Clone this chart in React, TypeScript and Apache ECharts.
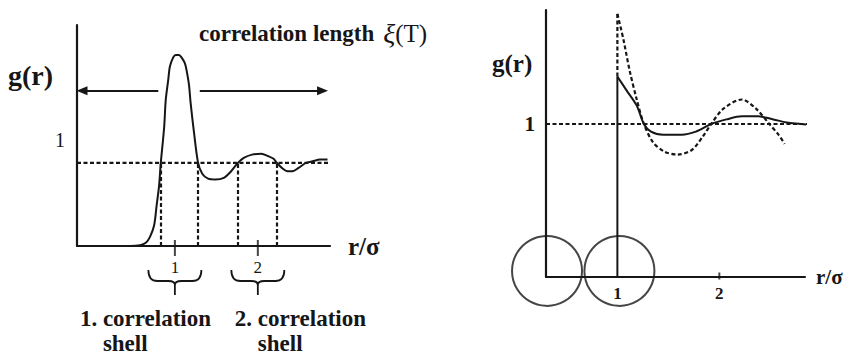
import React, { useEffect, useRef } from "react";
import * as echarts from "echarts";

// Left panel: g(r) of a liquid, r in units of σ — main peak, then a damped oscillation about 1
const liquidCurve: [number, number][] = [
  [-0.18, 0], [0.46, 0], [0.58, 0.01], [0.65, 0.04], [0.7, 0.11], [0.75, 0.25],
  [0.78, 0.49], [0.81, 0.73], [0.83, 1.0], [0.87, 1.42], [0.89, 1.76], [0.92, 2.0],
  [0.94, 2.16], [0.98, 2.27], [1.01, 2.3], [1.05, 2.3], [1.08, 2.27], [1.12, 2.2],
  [1.14, 2.12], [1.17, 1.94], [1.19, 1.72], [1.23, 1.37], [1.28, 1.0], [1.33, 0.87],
  [1.4, 0.81], [1.49, 0.8], [1.59, 0.82], [1.67, 0.89], [1.76, 1.0], [1.83, 1.06],
  [1.93, 1.1], [2.04, 1.11], [2.13, 1.08], [2.19, 1.05], [2.23, 1.0], [2.29, 0.94],
  [2.36, 0.9], [2.42, 0.9], [2.49, 0.94], [2.58, 1.0], [2.66, 1.02], [2.75, 1.04],
  [2.84, 1.04],
];
// where g(r) crosses 1: the edges of the first and second correlation shells
const shellBounds = [0.83, 1.28, 1.76, 2.23];
const shellCentres = [1, 2];
const shellCaptions = ["1. correlation", "2. correlation"];
const leftTickValues = [1, 2];
const leftRange = [-0.18, 2.87];
const leftUnityLine: [number, number][] = [[-0.18, 1], [2.86, 1]];
// correlation-length arrows, drawn at this height
const arrowLevel = 1.87;
const arrowLeft = [0.8, -0.12];
const arrowRight = [1.3, 2.78];

// Right panel: hard spheres — g(r) jumps at contact r = σ, then oscillates about 1
const contactLine: [number, number][] = [[1, 0], [1, 1.31]];
const solidCurve: [number, number][] = [
  [1, 1.31], [1.09, 1.22], [1.19, 1.12], [1.26, 1.0], [1.33, 0.95], [1.45, 0.93],
  [1.63, 0.93], [1.77, 0.95], [1.92, 1.0], [2.07, 1.03], [2.22, 1.05], [2.38, 1.05],
  [2.53, 1.03], [2.66, 1.01], [2.8, 1.0], [2.92, 0.99],
];
const dashedRise: [number, number][] = [[1, 1.31], [1, 1.72]];
const dashedCurve: [number, number][] = [
  [1, 1.72], [1.06, 1.55], [1.12, 1.35], [1.19, 1.16], [1.26, 1.0], [1.35, 0.88],
  [1.46, 0.82], [1.59, 0.8], [1.73, 0.83], [1.84, 0.92], [1.92, 1.0], [2.04, 1.1],
  [2.22, 1.16], [2.36, 1.1], [2.49, 1.0], [2.58, 0.93], [2.64, 0.87],
];
const rightUnityLine: [number, number][] = [[0.3, 1], [2.88, 1]];
const sphereCentres: [number, number][] = [[0.31, 0.04], [1.02, 0.04]];
const rightTickValues = [1, 2];
const rightRange = [0.3, 2.84];

const FONT = '"Liberation Serif", "Times New Roman", serif';
const INK = "#161616";
const DASH = [4, 2.5];

const BRACE_W = 53;
echarts.graphic.registerShape(
  "brace",
  echarts.graphic.extendPath(
    "M0,0 C0,8 3,11 9,11 L20,11 C24,11 26.5,12 26.5,15 C26.5,12 29,11 33,11 L44,11 C50,11 53,8 53,0 M26.5,15 L26.5,25",
    {}
  )
);

// caption left edges, in pixels from each shell's centre tick
const captionShift = [-95, -23];
const shellWordShift = [-72, 0];

export default function App() {
  const ref = useRef<HTMLDivElement>(null);

  useEffect(() => {
    if (!ref.current) return;
    const chart = echarts.init(ref.current, null, { renderer: "svg" });

    const axisLine = { show: true, onZero: false, lineStyle: { color: INK, width: 2.2 } };
    const lineSeries = (x: number, data: [number, number][], dashed = false) => ({
      type: "line",
      xAxisIndex: x,
      yAxisIndex: x,
      data,
      symbol: "none",
      clip: false,
      silent: true,
      lineStyle: { color: INK, width: dashed ? 2.2 : 2, type: dashed ? DASH : "solid" },
    });

    chart.setOption({
      animation: false,
      backgroundColor: "#ffffff",
      grid: [
        { left: 77, top: 25, width: 253, height: 221 },
        { left: 546, top: 10, width: 259, height: 267 },
      ],
      xAxis: [
        {
          type: "value", gridIndex: 0, min: leftRange[0], max: leftRange[1],
          axisLine, axisTick: { show: false }, splitLine: { show: false },
          axisLabel: { customValues: leftTickValues, fontFamily: FONT, fontSize: 17, color: INK, margin: 13 },
          name: "r/σ", nameLocation: "end", nameGap: 18,
          nameTextStyle: { fontFamily: FONT, fontWeight: "bold", fontSize: 25, color: INK, verticalAlign: "middle" },
        },
        {
          type: "value", gridIndex: 1, min: rightRange[0], max: rightRange[1],
          axisLine, axisTick: { show: false }, splitLine: { show: false },
          axisLabel: { customValues: rightTickValues, fontFamily: FONT, fontWeight: "bold", fontSize: 17, color: INK, margin: 8 },
          name: "r/σ", nameLocation: "end", nameGap: 11,
          nameTextStyle: { fontFamily: FONT, fontWeight: "bold", fontSize: 21, color: INK, verticalAlign: "middle" },
        },
      ],
      yAxis: [
        {
          type: "value", gridIndex: 0, min: 0, max: 2.66,
          axisLine, axisTick: { show: false }, splitLine: { show: false }, axisLabel: { show: false },
        },
        {
          type: "value", gridIndex: 1, min: 0, max: 1.745,
          axisLine, axisTick: { show: false }, splitLine: { show: false },
          axisLabel: { customValues: [1], fontFamily: FONT, fontWeight: "bold", fontSize: 21, color: INK, margin: 11 },
        },
      ],
      series: [
        { ...lineSeries(0, liquidCurve), smooth: 0.3 },
        {
          ...lineSeries(0, leftUnityLine, true),
          markLine: {
            silent: true,
            symbol: ["none", "none"],
            label: { show: false },
            lineStyle: { color: INK, width: 2.2, type: DASH },
            data: shellBounds.map((r) => [{ coord: [r, 0] }, { coord: [r, 1] }]),
          },
        },
        {
          type: "line", xAxisIndex: 0, yAxisIndex: 0, data: [], silent: true,
          markLine: {
            silent: true,
            symbol: ["none", "triangle"],
            symbolSize: [9, 11],
            label: { show: false },
            lineStyle: { color: INK, width: 2, type: "solid" },
            data: [arrowLeft, arrowRight].map((a) => [
              { coord: [a[0], arrowLevel] },
              { coord: [a[1], arrowLevel] },
            ]),
          },
        },
        {
          type: "scatter", xAxisIndex: 0, yAxisIndex: 0, silent: true, clip: false,
          data: leftTickValues.map((v) => [v, 0]),
          symbol: "rect", symbolSize: [2, 16], symbolOffset: [0, 2],
          itemStyle: { color: INK },
        },
        lineSeries(1, contactLine),
        { ...lineSeries(1, solidCurve), smooth: 0.3 },
        lineSeries(1, dashedRise, true),
        { ...lineSeries(1, dashedCurve, true), smooth: 0.3 },
        lineSeries(1, rightUnityLine, true),
        {
          type: "scatter", xAxisIndex: 1, yAxisIndex: 1, silent: true, clip: false,
          data: sphereCentres,
          symbol: "circle", symbolSize: 70,
          itemStyle: { color: "rgba(0,0,0,0)", borderColor: INK, borderWidth: 2 },
        },
        {
          type: "scatter", xAxisIndex: 1, yAxisIndex: 1, silent: true, clip: false,
          data: rightTickValues.filter((v) => v !== 1).map((v) => [v, 0]),
          symbol: "rect", symbolSize: [2, 7], symbolOffset: [0, -1],
          itemStyle: { color: INK },
        },
      ],
    });

    // braces and captions under the shells, placed from the axis scale
    const bold = { fontFamily: FONT, fontWeight: "bold", fill: INK };
    const graphics: any[] = [];
    shellCentres.forEach((c, i) => {
      const [px, py] = chart.convertToPixel({ xAxisIndex: 0, yAxisIndex: 0 }, [c, 0]) as number[];
      graphics.push({
        type: "brace", x: px - BRACE_W / 2, y: py + 24, silent: true,
        style: { fill: "none", stroke: INK, lineWidth: 1.8 },
      });
      graphics.push({
        type: "text", x: px + captionShift[i], y: py + 72, silent: true,
        style: { ...bold, text: shellCaptions[i], fontSize: 23, verticalAlign: "middle" },
      });
      graphics.push({
        type: "text", x: px + shellWordShift[i], y: py + 97, silent: true,
        style: { ...bold, text: "shell", fontSize: 23, verticalAlign: "middle" },
      });
    });
    graphics.push(
      { type: "text", x: 8, y: 75, silent: true, style: { ...bold, text: "g(r)", fontSize: 28, verticalAlign: "middle" } },
      { type: "text", x: 60, y: 140, silent: true, style: { fontFamily: FONT, fill: INK, text: "1", fontSize: 20, align: "center", verticalAlign: "middle" } },
      { type: "text", x: 492, y: 63, silent: true, style: { ...bold, text: "g(r)", fontSize: 25, verticalAlign: "middle" } },
      {
        type: "text", x: 199, y: 33, silent: true,
        style: {
          text: "{b|correlation length}{x|ξ}{t|(T)}",
          verticalAlign: "middle",
          rich: {
            b: { fontFamily: FONT, fontWeight: "bold", fontSize: 23, fill: INK, color: INK },
            x: { fontFamily: FONT, fontStyle: "italic", fontSize: 28, fill: INK, color: INK, padding: [0, 0, 0, 9] },
            t: { fontFamily: FONT, fontSize: 25, fill: INK, color: INK },
          },
        },
      }
    );
    chart.setOption({ graphic: graphics });

    return () => chart.dispose();
  }, []);

  return (
    <div
      ref={ref}
      style={{ position: "absolute", left: 0, top: 0, width: 852, height: 354, background: "#fff" }}
    />
  );
}
